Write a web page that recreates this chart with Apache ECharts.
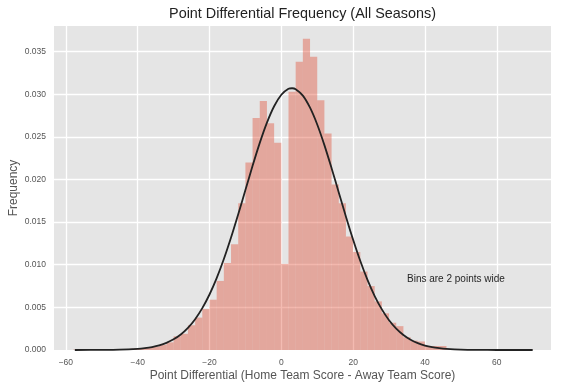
<!DOCTYPE html>
<html>
<head>
<meta charset="utf-8">
<script src="https://cdn.jsdelivr.net/npm/echarts@6/dist/echarts.min.js"></script>
<style>html,body{margin:0;padding:0;background:#fff;}#c{width:562px;height:387px;}</style>
</head>
<body>
<div id="c"></div>
<script>
// Histogram bins (2 points wide), left edges and density heights
var binWidth = 2;
var binStart = [-58,-56,-54,-52,-50,-48,-46,-44,-42,-40,-38,-36,-34,-32,-30,-28,-26,-24,-22,-20,-18,-16,-14,-12,-10,-8,-6,-4,-2,0,2,4,6,8,10,12,14,16,18,20,22,24,26,28,30,32,34,36,38,40,42,44,46,48,50,52,54,56,58,60,62,64,66,68];
var binDensity = [0.00004,0,0.00004,0.00004,0.00004,0.00008,0.00008,0.00012,0.00016,0.0002,0.0003,0.0004,0.0006,0.0009,0.0016,0.0019,0.0029,0.0038,0.0048,0.0059,0.0081,0.0102,0.0124,0.0172,0.0220,0.0272,0.0292,0.0266,0.0243,0.0101,0.0303,0.0338,0.0365,0.0344,0.0293,0.0254,0.0194,0.0172,0.0133,0.0115,0.0092,0.0075,0.0057,0.0043,0.0032,0.0028,0.0015,0.0011,0.0010,0.00047,0.00047,0.00047,0.00008,0.00008,0.00004,0.00004,0.00004,0,0.00004,0,0,0,0,0.00004];

// Fitted normal curve
var curveX = [-57.5,-50,-45,-40,-38,-36,-34,-32,-30,-28,-26,-24,-22,-20,-18,-16,-14,-12,-10,-8,-6,-4,-2,0,2,3,4,6,8,10,12,14,16,18,20,22,24,26,28,30,32,34,36,38,40,42,44,46,50,55,60,70];
var curveY = [0.000001,0.000008,0.000035,0.000133,0.000218,0.000349,0.000547,0.000836,0.00125,0.00182,0.00259,0.00361,0.00491,0.00651,0.00843,0.01067,0.01319,0.01592,0.01876,0.02160,0.02429,0.02667,0.02859,0.02994,0.03063,0.03070,0.03059,0.02984,0.02842,0.02645,0.02403,0.02132,0.01848,0.01564,0.01293,0.01043,0.00822,0.00633,0.00476,0.00349,0.00251,0.00176,0.00120,0.00080,0.00052,0.00033,0.00021,0.00013,0.000043,0.00001,0.000002,0.0];

var xTicks = [-60,-40,-20,0,20,40,60];
var yTicks = [0,0.005,0.010,0.015,0.020,0.025,0.030,0.035];

var titleText = 'Point Differential Frequency (All Seasons)';
var xName = 'Point Differential (Home Team Score - Away Team Score)';
var yName = 'Frequency';
var noteText = 'Bins are 2 points wide';
var notePos = [35, 0.008];

var FONT = '"Liberation Sans", Arial, Helvetica, sans-serif';

var barData = binStart.map(function (s, i) { return [s, s + binWidth, binDensity[i]]; });
var lineData = curveX.map(function (x, i) { return [x, curveY[i]]; });

var chart = echarts.init(document.getElementById('c'), null, {renderer: 'canvas'});
chart.setOption({
  animation: false,
  backgroundColor: '#ffffff',
  graphic: [{
    type: 'text', x: 302.5, y: 14.5,
    style: {text: titleText, fontSize: 14.4, fontFamily: FONT, fill: '#222222',
      align: 'center', verticalAlign: 'middle', textAlign: 'center', textVerticalAlign: 'middle'}
  }],
  grid: {left: 54, right: 11, top: 26, bottom: 37, show: true, backgroundColor: '#E5E5E5', borderWidth: 0,
    containLabel: false, outerBoundsMode: 'none'},
  xAxis: {
    type: 'value', min: -63.3, max: 75.1, splitNumber: 7,
    axisLine: {show: false}, axisTick: {show: false},
    splitLine: {show: true, showMinLine: false, showMaxLine: false, lineStyle: {color: '#ffffff', width: 1.3}},
    axisLabel: {color: '#555555', fontSize: 8.5, fontFamily: FONT, margin: 8,
      showMinLabel: false, showMaxLabel: false,
      formatter: function (v) {
        if (xTicks.indexOf(Math.round(v)) < 0 || Math.abs(v - Math.round(v)) > 1e-6) return '';
        return v < 0 ? '\u2212' + Math.abs(v) : String(v);
      }},
    name: xName, nameLocation: 'middle', nameGap: 20, nameMoveOverlap: false,
    nameTextStyle: {color: '#555555', fontSize: 12, fontFamily: FONT}
  },
  yAxis: {
    type: 'value', min: 0, max: 0.038, interval: 0.005,
    axisLine: {show: false}, axisTick: {show: false},
    splitLine: {show: true, showMinLine: false, showMaxLine: false, lineStyle: {color: '#ffffff', width: 1.3}},
    axisLabel: {color: '#555555', fontSize: 8.5, fontFamily: FONT, margin: 8, showMaxLabel: false,
      formatter: function (v) {
        for (var i = 0; i < yTicks.length; i++) { if (Math.abs(yTicks[i] - v) < 1e-9) return yTicks[i].toFixed(3); }
        return '';
      }},
    name: yName, nameLocation: 'middle', nameGap: 34, nameRotate: 90, nameMoveOverlap: false,
    nameTextStyle: {color: '#555555', fontSize: 12, fontFamily: FONT}
  },
  series: [
    {
      type: 'custom',
      data: barData,
      encode: {x: [0, 1], y: 2},
      renderItem: function (params, api) {
        var p0 = api.coord([api.value(0), 0]);
        var p1 = api.coord([api.value(1), api.value(2)]);
        return {
          type: 'rect',
          shape: {x: p0[0], y: p1[1], width: p1[0] - p0[0], height: p0[1] - p1[1]},
          style: {fill: '#E24A33', opacity: 0.4}
        };
      },
      z: 2
    },
    {
      type: 'line',
      data: lineData,
      showSymbol: false,
      smooth: 0.3,
      lineStyle: {color: '#222222', width: 1.8},
      z: 3
    },
    {
      type: 'custom',
      data: [notePos],
      encode: {x: 0, y: 1},
      renderItem: function (params, api) {
        var p = api.coord([api.value(0), api.value(1)]);
        return {
          type: 'text', x: p[0], y: p[1] + 2,
          style: {text: noteText, fontSize: 10, fontFamily: FONT, fill: '#262626',
            align: 'left', verticalAlign: 'bottom'}
        };
      },
      z: 4
    }
  ]
});
</script>
</body>
</html>
